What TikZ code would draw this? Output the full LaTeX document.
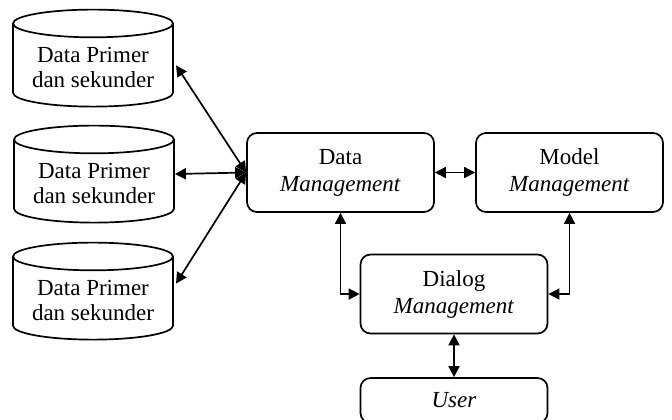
\documentclass[tikz,border=0pt]{standalone}
\usepackage{fontspec}
\setmainfont{Liberation Serif}
\usetikzlibrary{arrows.meta,shapes.geometric,positioning}

\begin{document}
\begin{tikzpicture} [x=0.5pt,y=-0.5pt,{box/.style={rectangle,rounded corners=5pt,draw,line width=0.85pt,minimum width=93.5pt,minimum height=39.5pt,inner sep=1pt,align=center,font=\fontsize{11.5}{13.5}\selectfont}},{db/.style={cylinder,shape border rotate=90,draw,line width=0.85pt,aspect=0.22,minimum width=80pt,minimum height=48.5pt,inner sep=1pt,align=center,font=\fontsize{11.5}{12.5}\selectfont}},{link/.style={{Triangle[length=5.5pt,width=5.5pt]}-{Triangle[length=5.5pt,width=5.5pt]},line width=0.85pt}}]
	\useasboundingbox (0,0) rectangle (672,419);
	%%data sources
	\node [db] (c1) at (93,67) {Data Primer\\dan sekunder};
	\node [db] (c2) at (94,183) {Data Primer\\dan sekunder};
	\node [db] (c3) at (93,300) {Data Primer\\dan sekunder};
	%%subsystems
	\node [box] (dm) at (340.5,172.5) {Data\\\textit{Management}};
	\node [box] (mm) at (569.5,172.5) {Model\\\textit{Management}};
	\node [box] (dl) at (454,294) {Dialog\\\textit{Management}};
	\node [box,minimum height=22.5pt] (us) at (454,400.5) {\textit{User}};
	%%links
	\draw [link,shorten <=2pt] ([yshift=2.5pt]c1.east) -- (dm.west);
	\draw [link] ([yshift=4.5pt]c2.east) -- (dm.west);
	\draw [link,shorten <=2pt] ([yshift=6.5pt]c3.east) -- (dm.west);
	\draw [link] (dm.east) -- (mm.west);
	\draw [link] (dm.south) |- (dl.west);
	\draw [link] (mm.south) |- (dl.east);
	\draw [link] (dl.south) -- (us.north);
\end{tikzpicture}
\end{document}
